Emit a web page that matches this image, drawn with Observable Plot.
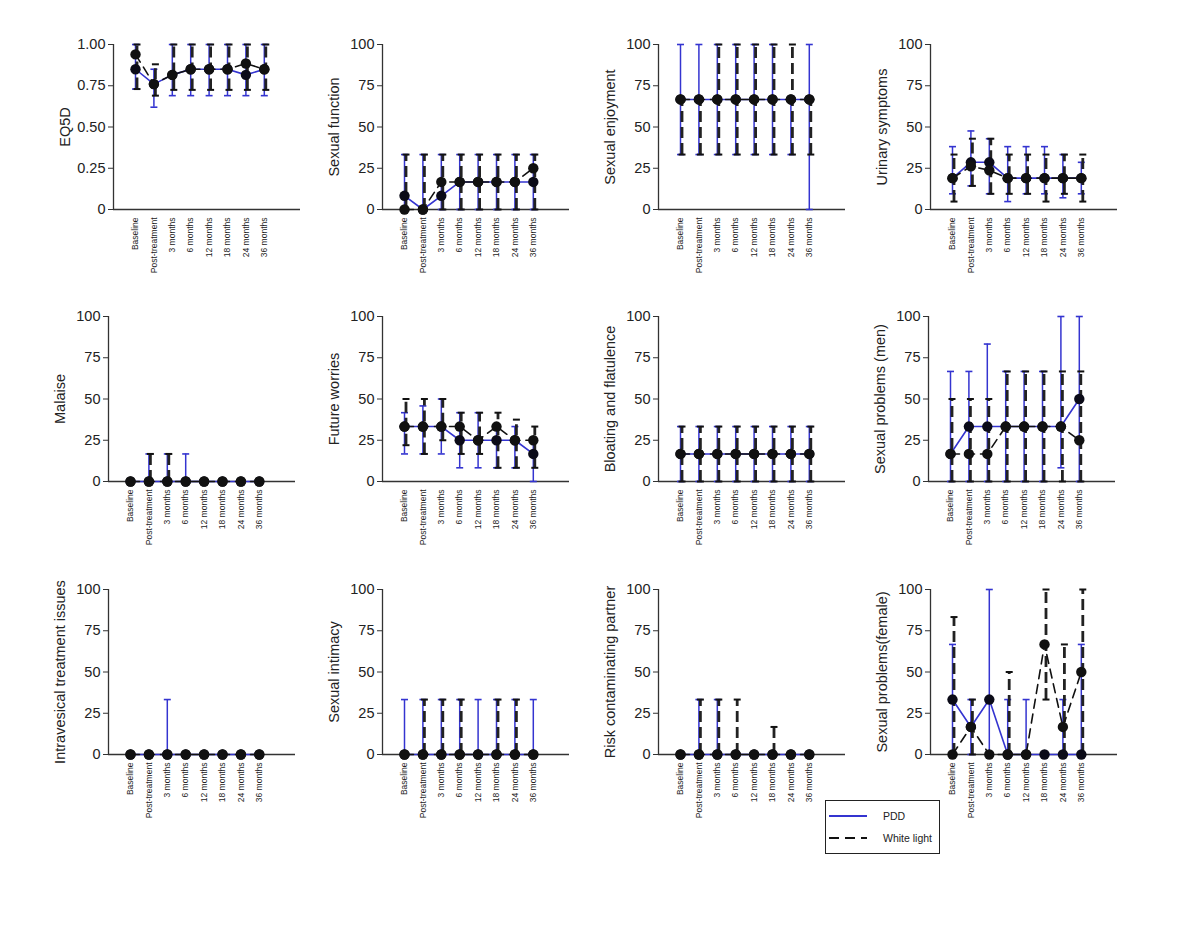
<!DOCTYPE html>
<html><head><meta charset="utf-8">
<script src="https://cdn.jsdelivr.net/npm/d3@7"></script>
<script src="https://cdn.jsdelivr.net/npm/@observablehq/plot@0.6"></script>
<style>
body{margin:0;background:#fff;font-family:"Liberation Sans",Arial,sans-serif;}
#root{position:relative;width:1200px;height:929px;overflow:hidden;background:#fff;}
.panel{position:absolute;}
#legend{position:absolute;left:825px;top:800px;width:113px;height:52px;border:1.5px solid #222;background:#fff;}
</style></head><body><div id="root"></div>
<script>
const categories = ["Baseline","Post-treatment","3 months","6 months","12 months","18 months","24 months","36 months"];
const seriesNames = ["PDD","White light"];

// EQ5D
const eq5d_pdd    = [0.85,0.76,0.816,0.85,0.85,0.85,0.816,0.85];
const eq5d_pdd_lo = [0.73,0.62,0.69,0.69,0.69,0.69,0.69,0.69];
const eq5d_pdd_hi = [1,0.85,1,1,1,1,1,1];
const eq5d_wl     = [0.94,0.76,0.816,0.85,0.85,0.85,0.885,0.85];
const eq5d_wl_lo  = [0.73,0.69,0.725,0.725,0.725,0.725,0.725,0.725];
const eq5d_wl_hi  = [1,0.88,1,1,1,1,1,1];
// Sexual function
const sf_pdd    = [8.3,0,8.3,16.7,16.7,16.7,16.7,16.7];
const sf_pdd_lo = [0,0,0,0,0,0,0,0];
const sf_pdd_hi = [33.3,33.3,33.3,33.3,33.3,33.3,33.3,33.3];
const sf_wl     = [0,0,16.7,16.7,16.7,16.7,16.7,25];
const sf_wl_lo  = [0,0,0,0,0,0,0,0];
const sf_wl_hi  = [33.3,33.3,33.3,33.3,33.3,33.3,33.3,33.3];
// Sexual enjoyment
const se_pdd    = [66.7,66.7,66.7,66.7,66.7,66.7,66.7,66.7];
const se_pdd_lo = [33.3,33.3,33.3,33.3,33.3,33.3,33.3,0];
const se_pdd_hi = [100,100,100,100,100,100,66.7,100];
const se_wl     = [66.7,66.7,66.7,66.7,66.7,66.7,66.7,66.7];
const se_wl_lo  = [33.3,33.3,33.3,33.3,33.3,33.3,33.3,33.3];
const se_wl_hi  = [66.7,66.7,100,100,100,100,100,66.7];
// Urinary symptoms
const us_pdd    = [19.0,28.6,28.6,19.0,19.0,19.0,19.0,19.0];
const us_pdd_lo = [9.5,14.3,9.5,4.8,9.5,9.5,7.1,9.5];
const us_pdd_hi = [38.1,47.6,42.9,38.1,38.1,38.1,33.3,28.6];
const us_wl     = [19.0,26.2,23.8,19.0,19.0,19.0,19.0,19.0];
const us_wl_lo  = [4.8,14.3,9.5,9.5,9.5,4.8,9.5,4.8];
const us_wl_hi  = [33.3,42.9,42.9,33.3,33.3,33.3,33.3,33.3];
// Malaise
const ma_pdd    = [0,0,0,0,0,0,0,0];
const ma_pdd_lo = [0,0,0,0,0,0,0,0];
const ma_pdd_hi = [0,16.7,16.7,16.7,0,0,0,0];
const ma_wl     = [0,0,0,0,0,0,0,0];
const ma_wl_lo  = [0,0,0,0,0,0,0,0];
const ma_wl_hi  = [0,16.7,16.7,0,0,0,0,0];
// Future worries
const fw_pdd    = [33.3,33.3,33.3,25,25,25,25,16.7];
const fw_pdd_lo = [16.7,16.7,16.7,8.3,8.3,8.3,8.3,0];
const fw_pdd_hi = [41.7,45.8,50,41.7,41.7,33.3,33.3,25];
const fw_wl     = [33.3,33.3,33.3,33.3,25,33.3,25,25];
const fw_wl_lo  = [22,16.7,25,16.7,16.7,8.3,8.3,8.3];
const fw_wl_hi  = [50,50,50,41.7,41.7,41.7,37.5,33.3];
// Bloating and flatulence
const bf_pdd    = [16.7,16.7,16.7,16.7,16.7,16.7,16.7,16.7];
const bf_pdd_lo = [0,0,0,0,0,0,0,0];
const bf_pdd_hi = [33.3,33.3,33.3,33.3,33.3,33.3,33.3,33.3];
const bf_wl     = [16.7,16.7,16.7,16.7,16.7,16.7,16.7,16.7];
const bf_wl_lo  = [0,0,0,0,0,0,0,0];
const bf_wl_hi  = [33.3,33.3,33.3,33.3,33.3,33.3,33.3,33.3];
// Sexual problems (men)
const sm_pdd    = [16.7,33.3,33.3,33.3,33.3,33.3,33.3,50];
const sm_pdd_lo = [0,0,0,0,0,0,8.3,0];
const sm_pdd_hi = [66.7,66.7,83.3,66.7,66.7,66.7,100,100];
const sm_wl     = [16.7,16.7,16.7,33.3,33.3,33.3,33.3,25];
const sm_wl_lo  = [0,0,0,0,0,0,0,0];
const sm_wl_hi  = [50,50,50,66.7,66.7,66.7,66.7,66.7];
// Intravesical treatment issues
const it_pdd    = [0,0,0,0,0,0,0,0];
const it_pdd_lo = [0,0,0,0,0,0,0,0];
const it_pdd_hi = [0,0,33.3,0,0,0,0,0];
const it_wl     = [0,0,0,0,0,0,0,0];
const it_wl_lo  = [0,0,0,0,0,0,0,0];
const it_wl_hi  = [0,0,0,0,0,0,0,0];
// Sexual intimacy
const si_pdd    = [0,0,0,0,0,0,0,0];
const si_pdd_lo = [0,0,0,0,0,0,0,0];
const si_pdd_hi = [33.3,33.3,33.3,33.3,33.3,33.3,33.3,33.3];
const si_wl     = [0,0,0,0,0,0,0,0];
const si_wl_lo  = [0,0,0,0,0,0,0,0];
const si_wl_hi  = [0,33.3,33.3,33.3,0,33.3,33.3,0];
// Risk contaminating partner
const rc_pdd    = [0,0,0,0,0,0,0,0];
const rc_pdd_lo = [0,0,0,0,0,0,0,0];
const rc_pdd_hi = [0,33.3,33.3,0,0,0,0,0];
const rc_wl     = [0,0,0,0,0,0,0,0];
const rc_wl_lo  = [0,0,0,0,0,0,0,0];
const rc_wl_hi  = [0,33.3,33.3,33.3,0,16.7,0,0];
// Sexual problems (female)
const sp_pdd    = [33.3,16.7,33.3,0,0,0,0,0];
const sp_pdd_lo = [0,0,0,0,0,0,0,0];
const sp_pdd_hi = [66.7,33.3,100,33.3,33.3,0,33.3,66.7];
const sp_wl     = [0,16.7,0,0,0,66.7,16.7,50];
const sp_wl_lo  = [0,0,0,0,0,33.3,0,0];
const sp_wl_hi  = [83.3,33.3,0,50,0,100,66.7,100];

const ticks100 = [0,25,50,75,100];
const ticksEq = [0,0.25,0.5,0.75,1];
const yLabels = ["EQ5D","Sexual function","Sexual enjoyment","Urinary symptoms",
  "Malaise","Future worries","Bloating and flatulence","Sexual problems (men)",
  "Intravesical treatment issues","Sexual intimacy","Risk contaminating partner","Sexual problems(female)"];

const panels = [
  {label:yLabels[0], ax:113, top:44, ymax:1, ticks:ticksEq, fmt:d=>d===0?"0":d.toFixed(2), s:[eq5d_pdd,eq5d_pdd_lo,eq5d_pdd_hi,eq5d_wl,eq5d_wl_lo,eq5d_wl_hi]},
  {label:yLabels[1], ax:382, top:44, ymax:100, ticks:ticks100, s:[sf_pdd,sf_pdd_lo,sf_pdd_hi,sf_wl,sf_wl_lo,sf_wl_hi]},
  {label:yLabels[2], ax:658, top:44, ymax:100, ticks:ticks100, s:[se_pdd,se_pdd_lo,se_pdd_hi,se_wl,se_wl_lo,se_wl_hi]},
  {label:yLabels[3], ax:930, top:44, ymax:100, ticks:ticks100, s:[us_pdd,us_pdd_lo,us_pdd_hi,us_wl,us_wl_lo,us_wl_hi]},
  {label:yLabels[4], ax:108, top:316, ymax:100, ticks:ticks100, s:[ma_pdd,ma_pdd_lo,ma_pdd_hi,ma_wl,ma_wl_lo,ma_wl_hi]},
  {label:yLabels[5], ax:382, top:316, ymax:100, ticks:ticks100, s:[fw_pdd,fw_pdd_lo,fw_pdd_hi,fw_wl,fw_wl_lo,fw_wl_hi]},
  {label:yLabels[6], ax:658, top:316, ymax:100, ticks:ticks100, s:[bf_pdd,bf_pdd_lo,bf_pdd_hi,bf_wl,bf_wl_lo,bf_wl_hi]},
  {label:yLabels[7], ax:928, top:316, ymax:100, ticks:ticks100, s:[sm_pdd,sm_pdd_lo,sm_pdd_hi,sm_wl,sm_wl_lo,sm_wl_hi]},
  {label:yLabels[8], ax:108, top:589, ymax:100, ticks:ticks100, s:[it_pdd,it_pdd_lo,it_pdd_hi,it_wl,it_wl_lo,it_wl_hi]},
  {label:yLabels[9], ax:382, top:589, ymax:100, ticks:ticks100, s:[si_pdd,si_pdd_lo,si_pdd_hi,si_wl,si_wl_lo,si_wl_hi]},
  {label:yLabels[10], ax:658, top:589, ymax:100, ticks:ticks100, s:[rc_pdd,rc_pdd_lo,rc_pdd_hi,rc_wl,rc_wl_lo,rc_wl_hi]},
  {label:yLabels[11], ax:930, top:589, ymax:100, ticks:ticks100, s:[sp_pdd,sp_pdd_lo,sp_pdd_hi,sp_wl,sp_wl_lo,sp_wl_hi]}
];

const BLUE = "#3434d0", BLACK = "#111";
const FIRST = 22, STEP = 18.4, AXLEN = 187, H = 165;
const ML = 75, MR = 5, MT = 12, MB = 80;
const CAP = 0.19;
const root = document.getElementById("root");

function draw(p){
  const [pm, pl, ph, wm, wlo, whi] = p.s;
  const rows = categories.map((c,i)=>({i, c, pdd:pm[i], pddLo:pl[i], pddHi:ph[i], wl:wm[i], wlLo:wlo[i], wlHi:whi[i]}));
  const x0 = -FIRST/STEP, x1 = (AXLEN-FIRST)/STEP;
  const pddBars = rows.filter(d=>d.pddHi>d.pddLo);
  const wlBars = rows.filter(d=>d.wlHi>d.wlLo);
  const pddCaps = pddBars.flatMap(d=>[{i:d.i,v:d.pddLo},{i:d.i,v:d.pddHi}]);
  const wlCaps = wlBars.flatMap(d=>[{i:d.i,v:d.wlLo},{i:d.i,v:d.wlHi}]);
  const fmt = p.fmt || (d=>String(d));
  const chart = Plot.plot({
    width: ML+AXLEN+MR, height: MT+H+MB,
    marginLeft: ML, marginRight: MR, marginTop: MT, marginBottom: MB,
    x: {type:"linear", domain:[x0,x1]},
    y: {type:"linear", domain:[0,p.ymax]},
    style: {fontFamily:"'Liberation Sans', Arial, sans-serif", color:"#222", background:"transparent", overflow:"visible"},
    marks: [
      Plot.axisY({ticks:p.ticks, tickFormat:fmt, tickSize:5, tickPadding:3, fontSize:14.5, label:null, stroke:"#333"}),
      Plot.axisX({ticks:d3.range(categories.length), tickFormat:i=>categories[i], tickRotate:-90, tickSize:0, tickPadding:8, fontSize:8.5, label:null}),
      Plot.ruleX([x0], {stroke:"#333", strokeWidth:1.3}),
      Plot.ruleY([0], {stroke:"#333", strokeWidth:1.3}),
      Plot.ruleX(pddBars, {x:"i", y1:"pddLo", y2:"pddHi", stroke:BLUE, strokeWidth:1.5}),
      Plot.link(pddCaps, {x1:d=>d.i-CAP, x2:d=>d.i+CAP, y1:"v", y2:"v", stroke:BLUE, strokeWidth:1.6}),
      Plot.ruleX(wlBars, {x:"i", y1:"wlLo", y2:"wlHi", stroke:"#222", strokeWidth:2.8, strokeDasharray:"11,5", dx:1.5}),
      Plot.link(wlCaps, {x1:d=>d.i-CAP, x2:d=>d.i+CAP, y1:"v", y2:"v", stroke:BLACK, strokeWidth:2, dx:1.5}),
      Plot.line(rows, {x:"i", y:"pdd", stroke:BLUE, strokeWidth:1.6}),
      Plot.line(rows, {x:"i", y:"wl", stroke:BLACK, strokeWidth:1.6, strokeDasharray:"9,6"}),
      Plot.dot(rows, {x:"i", y:"pdd", r:5.2, fill:"#0b0b18", stroke:null}),
      Plot.dot(rows, {x:"i", y:"wl", r:5.2, fill:BLACK, stroke:null}),
      Plot.text([p.label], {text:d=>d, frameAnchor:"left", textAnchor:"middle", lineAnchor:"middle", rotate:-90, dx:-48, fontSize:14.5, fill:"#222"})
    ]
  });
  chart.classList.add("panel");
  chart.style.left = (p.ax - ML) + "px";
  chart.style.top = (p.top - MT) + "px";
  root.appendChild(chart);
}
panels.forEach(draw);

// legend
const legend = document.createElement("div");
legend.id = "legend";
const ns = "http://www.w3.org/2000/svg";
const lsvg = document.createElementNS(ns, "svg");
lsvg.setAttribute("width", 113); lsvg.setAttribute("height", 52);
const styles = [{stroke:BLUE, dash:null, w:2}, {stroke:BLACK, dash:"10,6", w:2.2}];
seriesNames.forEach((name, k) => {
  const y = 15 + k*22;
  const ln = document.createElementNS(ns, "line");
  ln.setAttribute("x1", 3); ln.setAttribute("x2", 41); ln.setAttribute("y1", y); ln.setAttribute("y2", y);
  ln.setAttribute("stroke", styles[k].stroke); ln.setAttribute("stroke-width", styles[k].w);
  if (styles[k].dash) ln.setAttribute("stroke-dasharray", styles[k].dash);
  lsvg.appendChild(ln);
  const t = document.createElementNS(ns, "text");
  t.setAttribute("x", 57); t.setAttribute("y", y + 3.5);
  t.setAttribute("font-size", 10.5); t.setAttribute("fill", "#222");
  t.setAttribute("font-family", "'Liberation Sans', Arial, sans-serif");
  t.textContent = name;
  lsvg.appendChild(t);
});
legend.appendChild(lsvg);
root.appendChild(legend);
</script>
</body></html>
